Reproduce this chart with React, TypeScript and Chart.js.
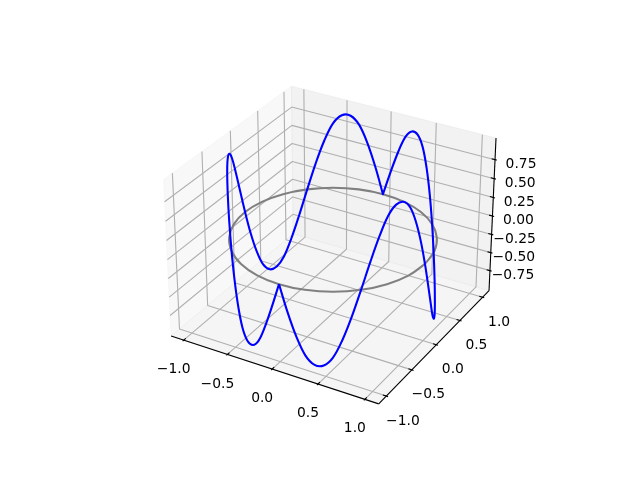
import React, { useEffect, useRef } from "react";
import { Chart, registerables } from "chart.js";

Chart.register(...registerables);

// ---- data ----
const xTicks = [-1, -0.5, 0, 0.5, 1];
const yTicks = [-1, -0.5, 0, 0.5, 1];
const zTicks = [-0.75, -0.5, -0.25, 0, 0.25, 0.5, 0.75];
const xTickLabels = ["\u22121.0", "\u22120.5", "0.0", "0.5", "1.0"];
const yTickLabels = ["\u22121.0", "\u22120.5", "0.0", "0.5", "1.0"];
const zTickLabels = ["\u22120.75", "\u22120.50", "\u22120.25", "0.00", "0.25", "0.50", "0.75"];

const circleAngleDeg = [0, 15, 30, 45, 60, 75, 90, 105, 120, 135, 150, 165, 180, 195, 210, 225, 240, 255, 270, 285, 300, 315, 330, 345, 360];

const curveAngleDeg = [
  -90, -85, -80, -75, -70, -65, -60, -55, -50, -45, -40, -35, -30, -25, -20, -15, -10, -5,
  0, 5, 10, 15, 20, 25, 30, 35, 40, 45, 50, 55, 60, 65, 70, 75, 80, 85, 90, 90,
  95, 100, 105, 110, 115, 120, 125, 130, 135, 140, 145, 150, 155, 160, 165, 170, 175,
  180, 185, 190, 195, 200, 205, 210, 215, 220, 225, 230, 235, 240, 245, 250, 255, 260, 265, 270,
];
const curveZ = [
  0, -0.34, -0.64, -0.87, -0.98, -0.98, -0.87, -0.64, -0.34, 0, 0.34, 0.64, 0.87, 0.98, 0.98, 0.87, 0.64, 0.34,
  0, -0.34, -0.64, -0.87, -0.98, -0.98, -0.87, -0.64, -0.34, 0, 0.34, 0.64, 0.87, 0.98, 0.98, 0.87, 0.64, 0.34, 0, 0,
  0.34, 0.64, 0.87, 0.98, 0.98, 0.87, 0.64, 0.34, 0, -0.34, -0.64, -0.87, -0.98, -0.98, -0.87, -0.64, -0.34,
  0, 0.34, 0.64, 0.87, 0.98, 0.98, 0.87, 0.64, 0.34, 0, -0.34, -0.64, -0.87, -0.98, -0.98, -0.87, -0.64, -0.34, 0,
];

// ---- 3D view ----
const ELEV = (30 * Math.PI) / 180;
const AZIM = (-60 * Math.PI) / 180;
const DIST = 10;
const BOX = [1.143, 1.143, 0.857];
const LIM = [1.1, 1.1, 0.99];
const EXT = LIM.map((l) => l * (1 + 1 / 24)); // pane extents
const [PX, PY, PZ] = EXT;

const W = [Math.cos(ELEV) * Math.cos(AZIM), Math.cos(ELEV) * Math.sin(AZIM), Math.sin(ELEV)];
const U = [-Math.sin(AZIM), Math.cos(AZIM), 0];
const V = [-Math.sin(ELEV) * Math.cos(AZIM), -Math.sin(ELEV) * Math.sin(AZIM), Math.cos(ELEV)];
const dot = (a: number[], b: number[]) => a[0] * b[0] + a[1] * b[1] + a[2] * b[2];

function project(x: number, y: number, z: number) {
  const p = [(x / (2 * LIM[0])) * BOX[0], (y / (2 * LIM[1])) * BOX[1], (z / (2 * LIM[2])) * BOX[2]];
  const d = DIST - dot(W, p);
  return { x: dot(U, p) / d, y: dot(V, p) / d };
}
const path = (pts: number[][]) => pts.map(([x, y, z]) => project(x, y, z));

// ---- axes box in the figure ----
const VIEW_LO = -0.095;
const VIEW_HI = 0.09;
const PX_PER_UNIT = 369.6 / (VIEW_HI - VIEW_LO);
const X_MIN = VIEW_LO - 143.2 / PX_PER_UNIT;
const X_MAX = X_MIN + 640 / PX_PER_UNIT;
const Y_MIN = VIEW_LO - 52.8 / PX_PER_UNIT;
const Y_MAX = Y_MIN + 480 / PX_PER_UNIT;

const LW_GRID = 1.1;
const LW_AXIS = 1.1;
const LW_CURVE = 2.08;
const TICK_OUT = (2.2 / 12) * 0.1;
const TICK_IN = (2.2 / 12) * 0.2;

function buildDatasets() {
  const ds: any[] = [];
  const line = (data: any[], color: string, width: number, extra: any = {}) =>
    ds.push({ data, borderColor: color, borderWidth: width, pointRadius: 0, showLine: true, tension: 0, fill: false, borderCapStyle: "butt", borderJoinStyle: "round", ...extra });
  const pane = (pts: number[][], color: string) =>
    line(path([...pts, pts[0]]), color, 1, { fill: "shape", backgroundColor: color });

  pane([[-PX, -PY, -PZ], [-PX, PY, -PZ], [-PX, PY, PZ], [-PX, -PY, PZ]], "rgba(242,242,242,0.5)");
  pane([[-PX, PY, -PZ], [PX, PY, -PZ], [PX, PY, PZ], [-PX, PY, PZ]], "rgba(230,230,230,0.5)");
  pane([[-PX, -PY, -PZ], [PX, -PY, -PZ], [PX, PY, -PZ], [-PX, PY, -PZ]], "rgba(236,236,236,0.5)");

  for (const t of xTicks) line(path([[t, -PY, -PZ], [t, PY, -PZ], [t, PY, PZ]]), "#b0b0b0", LW_GRID);
  for (const t of yTicks) line(path([[PX, t, -PZ], [-PX, t, -PZ], [-PX, t, PZ]]), "#b0b0b0", LW_GRID);
  for (const t of zTicks) line(path([[-PX, -PY, t], [-PX, PY, t], [PX, PY, t]]), "#b0b0b0", LW_GRID);

  line(path([[-PX, -PY, -PZ], [PX, -PY, -PZ]]), "#000", LW_AXIS);
  line(path([[PX, -PY, -PZ], [PX, PY, -PZ]]), "#000", LW_AXIS);
  line(path([[PX, PY, -PZ], [PX, PY, PZ]]), "#000", LW_AXIS);

  for (const t of xTicks) line(path([[t, -PY - TICK_OUT, -PZ], [t, -PY + TICK_IN, -PZ]]), "#000", LW_AXIS);
  for (const t of yTicks) line(path([[PX + TICK_OUT, t, -PZ], [PX - TICK_IN, t, -PZ]]), "#000", LW_AXIS);
  for (const t of zTicks) line(path([[PX + TICK_OUT, PY, t], [PX - TICK_IN, PY, t]]), "#000", LW_AXIS);

  const polar = (deg: number) => [Math.cos((deg * Math.PI) / 180), Math.sin((deg * Math.PI) / 180)];
  line(circleAngleDeg.map((a) => { const [x, y] = polar(a); return project(x, y, 0); }), "#808080", LW_CURVE, { tension: 0.4 });
  line(curveAngleDeg.map((a, i) => { const [x, y] = polar(a); return project(x, y, curveZ[i]); }), "#0000ff", LW_CURVE, { tension: 0.35 });

  const n = ds.length;
  ds.forEach((d, i) => (d.order = n - i));
  return ds;
}

const tickLabelPlugin = {
  id: "tickLabels3d",
  afterDatasetsDraw(chart: any) {
    const { ctx, scales } = chart;
    ctx.save();
    ctx.fillStyle = "#000";
    ctx.font = '13.89px "DejaVu Sans"';
    ctx.textAlign = "center";
    ctx.textBaseline = "middle";
    const put = (p: { x: number; y: number }, dx: number, dy: number, s: string) =>
      ctx.fillText(s, scales.x.getPixelForValue(p.x) + dx, scales.y.getPixelForValue(p.y) + dy);
    xTicks.forEach((t, i) => put(project(t, -PY, -PZ), -10, 29.5, xTickLabels[i]));
    yTicks.forEach((t, i) => put(project(PX, t, -PZ), 16.5, 25, yTickLabels[i]));
    zTicks.forEach((t, i) => put(project(PX, PY, t), t < 0 ? 23 : 26, 4.5, zTickLabels[i]));
    ctx.restore();
  },
};

export default function App() {
  const ref = useRef<HTMLCanvasElement>(null);
  useEffect(() => {
    document.body.style.margin = "0";
    const chart = new Chart(ref.current as HTMLCanvasElement, {
      type: "scatter",
      data: { datasets: buildDatasets() },
      options: {
        animation: false,
        responsive: false,
        layout: { padding: 0 },
        plugins: { legend: { display: false }, tooltip: { enabled: false } },
        scales: {
          x: { type: "linear", display: false, min: X_MIN, max: X_MAX },
          y: { type: "linear", display: false, min: Y_MIN, max: Y_MAX },
        },
      },
      plugins: [tickLabelPlugin],
    } as any);
    return () => chart.destroy();
  }, []);
  return (
    <div style={{ width: 640, height: 480, background: "#fff" }}>
      <canvas ref={ref} width={640} height={480} style={{ display: "block" }} />
    </div>
  );
}
